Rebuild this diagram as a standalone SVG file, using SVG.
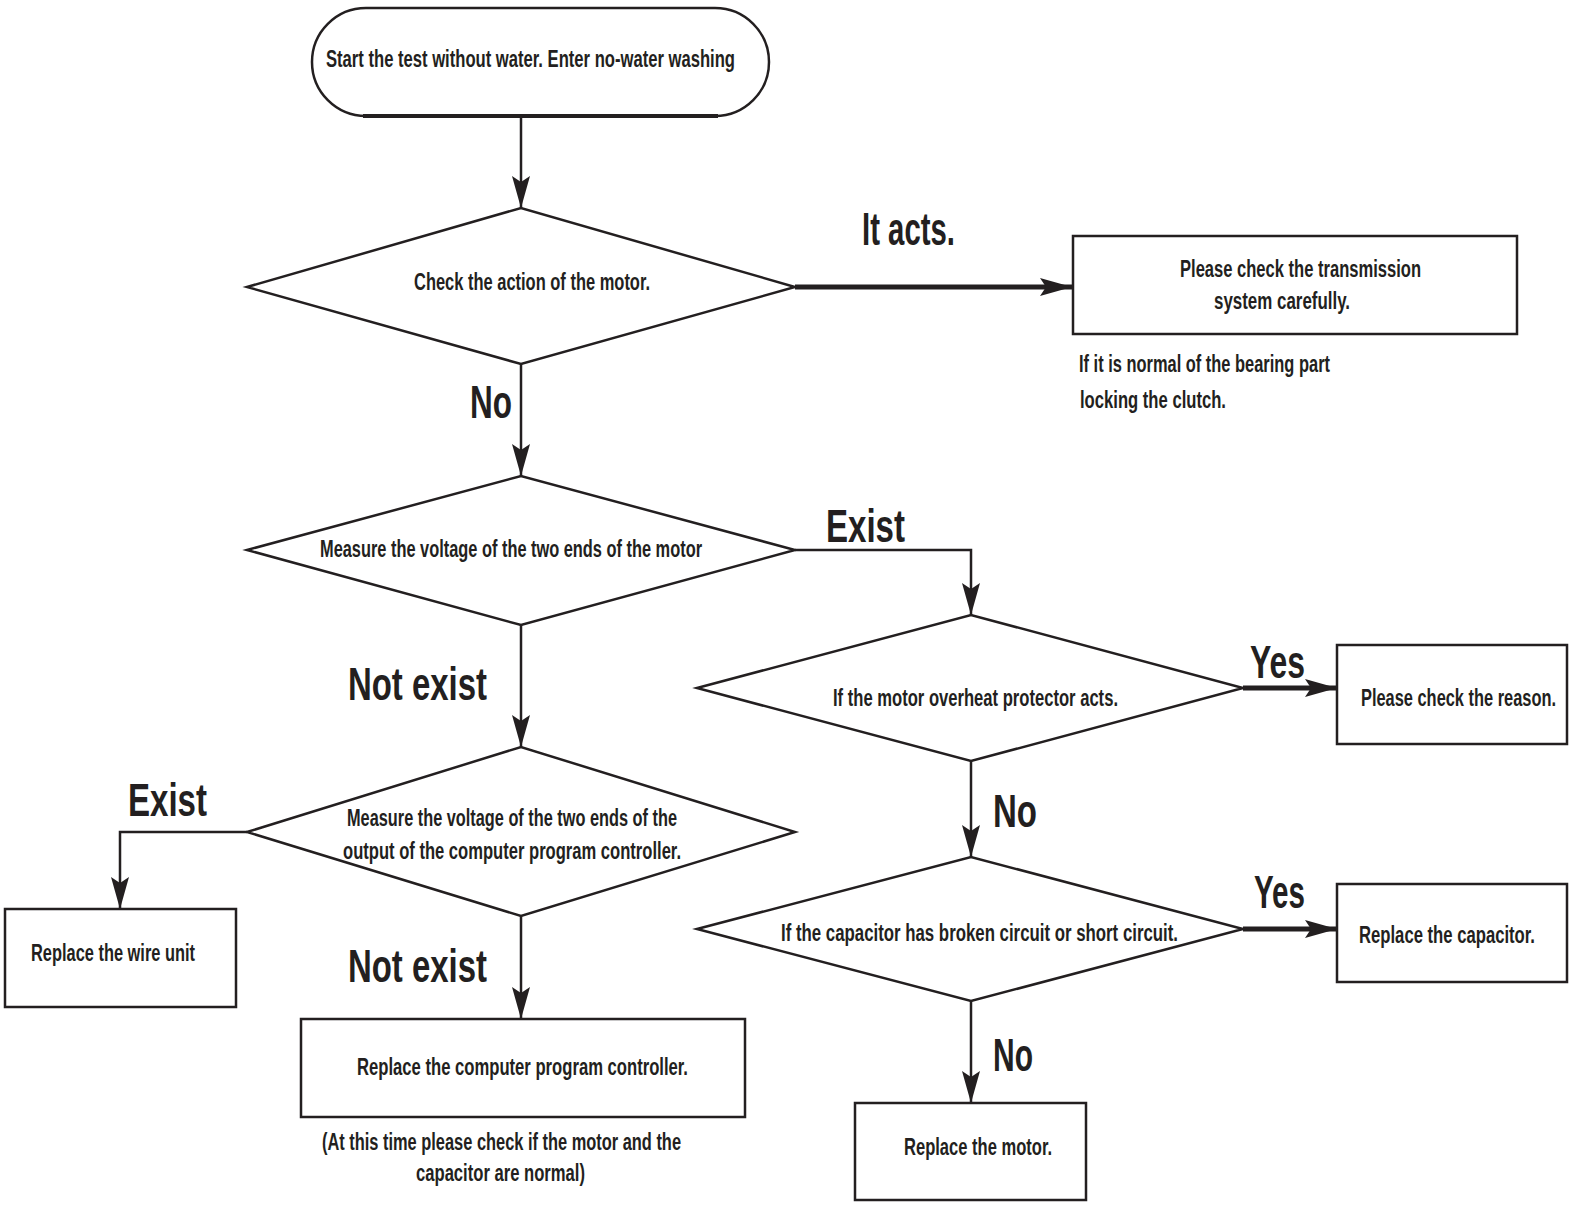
<svg xmlns="http://www.w3.org/2000/svg" width="1578" height="1208" viewBox="0 0 1578 1208">
<style>
.sh{fill:#fff;stroke:#231f20;stroke-width:2.5}
.bx{fill:#fff;stroke:#231f20;stroke-width:2.5}
.t{font-family:"Liberation Sans Narrow","Liberation Sans",Arial,sans-serif;font-size:23px;fill:#231f20;font-weight:bold}
.lb{font-family:"Liberation Sans Narrow","Liberation Sans",Arial,sans-serif;font-size:46px;fill:#231f20;font-weight:bold}
.c{fill:none;stroke:#231f20;stroke-width:2.5}
.ct{fill:none;stroke:#231f20;stroke-width:5}
</style>
<defs>
<marker id="a" markerUnits="userSpaceOnUse" markerWidth="34" markerHeight="22" refX="32" refY="11" orient="auto">
<path d="M0,2 L32,11 L0,20 L6,11 z" fill="#231f20"/>
</marker>
</defs>
<rect width="1578" height="1208" fill="#fff"/>

<g id="start">
<rect class="sh" x="312" y="8" width="457" height="108" rx="54"/>
<line x1="363" y1="116" x2="718" y2="116" stroke="#231f20" stroke-width="4"/>
<text class="t" x="326" y="67" textLength="409" lengthAdjust="spacingAndGlyphs">Start the test without water. Enter no-water washing</text>
</g>

<g id="d1">
<polygon class="sh" points="247,287 521,208 795,287 521,364"/>
<text class="t" x="414" y="290" textLength="236" lengthAdjust="spacingAndGlyphs">Check the action of the motor.</text>
</g>

<g id="b1">
<rect class="bx" x="1073" y="236" width="444" height="98"/>
<text class="t" x="1180" y="277" textLength="241" lengthAdjust="spacingAndGlyphs">Please check the transmission</text>
<text class="t" x="1214" y="309" textLength="136" lengthAdjust="spacingAndGlyphs">system carefully.</text>
</g>
<g id="n1">
<text class="t" x="1079" y="372" textLength="251" lengthAdjust="spacingAndGlyphs">If it is normal of the bearing part</text>
<text class="t" x="1080" y="408" textLength="146" lengthAdjust="spacingAndGlyphs">locking the clutch.</text>
</g>

<g id="d2">
<polygon class="sh" points="247,550 521,476 795,550 521,625"/>
<text class="t" x="320" y="557" textLength="382" lengthAdjust="spacingAndGlyphs">Measure the voltage of the two ends of the motor</text>
</g>

<g id="d3">
<polygon class="sh" points="697,688 971,615 1243,688 971,761"/>
<text class="t" x="833" y="706" textLength="285" lengthAdjust="spacingAndGlyphs">If the motor overheat protector acts.</text>
</g>

<g id="b2">
<rect class="bx" x="1337" y="645" width="230" height="99"/>
<text class="t" x="1361" y="706" textLength="195" lengthAdjust="spacingAndGlyphs">Please check the reason.</text>
</g>

<g id="d4">
<polygon class="sh" points="697,929 971,857 1243,929 971,1001"/>
<text class="t" x="781" y="941" textLength="397" lengthAdjust="spacingAndGlyphs">If the capacitor has broken circuit or short  circuit.</text>
</g>

<g id="b3">
<rect class="bx" x="1337" y="884" width="230" height="98"/>
<text class="t" x="1359" y="943" textLength="176" lengthAdjust="spacingAndGlyphs">Replace the capacitor.</text>
</g>

<g id="b4">
<rect class="bx" x="855" y="1103" width="231" height="97"/>
<text class="t" x="904" y="1155" textLength="148" lengthAdjust="spacingAndGlyphs">Replace the motor.</text>
</g>

<g id="d5">
<polygon class="sh" points="247,832 521,747 795,832 521,916"/>
<text class="t" x="347" y="826" textLength="330" lengthAdjust="spacingAndGlyphs">Measure the voltage of the two ends of the</text>
<text class="t" x="343" y="859" textLength="338" lengthAdjust="spacingAndGlyphs">output of the computer program controller.</text>
</g>

<g id="b5">
<rect class="bx" x="5" y="909" width="231" height="98"/>
<text class="t" x="31" y="961" textLength="164" lengthAdjust="spacingAndGlyphs">Replace the wire unit</text>
</g>

<g id="b6">
<rect class="bx" x="301" y="1019" width="444" height="98"/>
<text class="t" x="357" y="1075" textLength="331" lengthAdjust="spacingAndGlyphs">Replace the computer program controller.</text>
</g>
<g id="n2">
<text class="t" x="322" y="1150" textLength="359" lengthAdjust="spacingAndGlyphs">(At this time please check if the motor and the</text>
<text class="t" x="416" y="1181" textLength="169" lengthAdjust="spacingAndGlyphs">capacitor are normal)</text>
</g>

<g id="connectors">
<line class="c" x1="521" y1="116" x2="521" y2="208" marker-end="url(#a)"/>
<line class="ct" x1="795" y1="287" x2="1072" y2="287" marker-end="url(#a)"/>
<line class="c" x1="521" y1="364" x2="521" y2="476" marker-end="url(#a)"/>
<polyline class="c" points="795,550 971,550 971,615" marker-end="url(#a)"/>
<line class="ct" x1="1243" y1="688" x2="1337" y2="688" marker-end="url(#a)"/>
<line class="c" x1="971" y1="761" x2="971" y2="857" marker-end="url(#a)"/>
<line class="ct" x1="1243" y1="929" x2="1337" y2="929" marker-end="url(#a)"/>
<line class="c" x1="971" y1="1001" x2="971" y2="1103" marker-end="url(#a)"/>
<line class="c" x1="521" y1="625" x2="521" y2="747" marker-end="url(#a)"/>
<polyline class="c" points="247,832 120,832 120,909" marker-end="url(#a)"/>
<line class="c" x1="521" y1="916" x2="521" y2="1019" marker-end="url(#a)"/>
<text class="lb" x="862" y="245" textLength="93" lengthAdjust="spacingAndGlyphs">It acts.</text>
<text class="lb" x="470" y="418" textLength="42" lengthAdjust="spacingAndGlyphs">No</text>
<text class="lb" x="826" y="542" textLength="79" lengthAdjust="spacingAndGlyphs">Exist</text>
<text class="lb" x="348" y="700" textLength="139" lengthAdjust="spacingAndGlyphs">Not exist</text>
<text class="lb" x="1250" y="678" textLength="55" lengthAdjust="spacingAndGlyphs">Yes</text>
<text class="lb" x="993" y="827" textLength="44" lengthAdjust="spacingAndGlyphs">No</text>
<text class="lb" x="128" y="816" textLength="79" lengthAdjust="spacingAndGlyphs">Exist</text>
<text class="lb" x="348" y="982" textLength="139" lengthAdjust="spacingAndGlyphs">Not exist</text>
<text class="lb" x="1254" y="908" textLength="51" lengthAdjust="spacingAndGlyphs">Yes</text>
<text class="lb" x="993" y="1071" textLength="40" lengthAdjust="spacingAndGlyphs">No</text>
</g>
</svg>
